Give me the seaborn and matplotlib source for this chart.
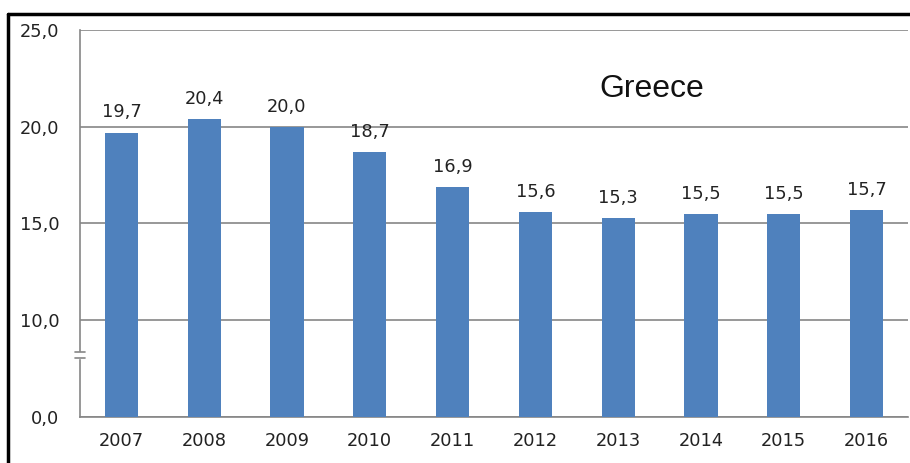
import matplotlib
matplotlib.use('Agg')
import matplotlib.pyplot as plt
import seaborn as sns
import pandas as pd
from matplotlib.patches import Rectangle
from matplotlib.lines import Line2D

# Data
years = ['2007', '2008', '2009', '2010', '2011', '2012', '2013', '2014', '2015', '2016']
values = [19.7, 20.4, 20.0, 18.7, 16.9, 15.6, 15.3, 15.5, 15.5, 15.7]
ytick_pos = [5, 10, 15, 20, 25]
ytick_labels = ['0,0', '10,0', '15,0', '20,0', '25,0']

df = pd.DataFrame({'year': years, 'value': values})

sns.set_style('white')
plt.rcParams['font.family'] = ['DejaVu Sans']

fig = plt.figure(figsize=(9.1, 4.63), dpi=100)
ax = fig.add_axes([80 / 910, 1 - 417 / 463, 828 / 910, 387 / 463])

sns.barplot(data=df, x='year', y='value', color='#4F81BD', saturation=1,
            width=0.4, linewidth=0, ax=ax, zorder=3)

# broken axis: bottom tick stands for 0,0
ax.set_ylim(5, 25)
ax.set_xlim(-0.5, len(years) - 0.5)
ax.set_yticks(ytick_pos)
ax.set_yticklabels(ytick_labels, fontsize=12.8, color='#222222')
ax.set_xticks([i + 0.5 for i in range(len(years))], minor=True)
ax.tick_params(axis='x', which='major', length=0, labelsize=12.8, colors='#222222', pad=11)
ax.tick_params(axis='x', which='minor', length=5, width=1.2, color='#868686', direction='out')
ax.tick_params(axis='y', length=5, width=1.2, color='#868686', direction='out', pad=10)
ax.set_xlabel('')
ax.set_ylabel('')

ax.grid(axis='y', color='#868686', linewidth=1.2, zorder=0)
for s in ['top', 'right']:
    ax.spines[s].set_visible(False)
for s in ['left', 'bottom']:
    ax.spines[s].set_color('#868686')
    ax.spines[s].set_linewidth(1.2)

# value labels
for i, v in enumerate(values):
    ax.annotate(f'{v:.1f}'.replace('.', ','), (i, v), xytext=(0, 8),
                textcoords='offset points', ha='center', va='bottom',
                fontsize=12.8, color='#222222')

# axis break marks
ax.add_patch(Rectangle((-0.53, 8.05), 0.06, 0.31, transform=ax.transData,
                       color='white', clip_on=False, zorder=5))
for yb in [8.05, 8.36]:
    ax.plot([-0.555, -0.445], [yb, yb], color='#868686', lw=1.2,
            clip_on=False, zorder=6)

ax.text(0.691, 0.848, 'Greece', transform=ax.transAxes, fontsize=23,
        family=['Liberation Sans', 'DejaVu Sans'], ha='center', va='center',
        color='#111111')

# outer frame (top and left edges visible)
fig.add_artist(Line2D([8 / 910, 1], [1 - 14 / 463, 1 - 14 / 463],
                      transform=fig.transFigure, color='black', lw=2.5))
fig.add_artist(Line2D([8 / 910, 8 / 910], [0, 1 - 14 / 463],
                      transform=fig.transFigure, color='black', lw=2.5))

fig.savefig('out.png', dpi=100)
